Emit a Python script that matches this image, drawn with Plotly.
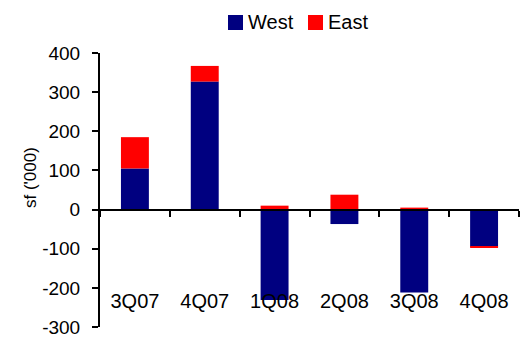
import plotly.graph_objects as go

# Quarterly net absorption by region
quarters = ["3Q07", "4Q07", "1Q08", "2Q08", "3Q08", "4Q08"]
west = [105, 327, -231, -37, -212, -95]
east = [80, 40, 10, 38, 5, -2]

series_names = ["West", "East"]
series_colors = ["#000080", "#FF0000"]

y_ticks = [-300, -200, -100, 0, 100, 200, 300, 400]
y_tick_labels = ["-300", "-200", "-100", "0", "100", "200", "300", "400"]

W, H = 522, 339
ML, MR, MT, MB = 100, 3, 53, 12
PW, PH = W - ML - MR, H - MT - MB

FONT = "Liberation Sans, Arial, sans-serif"


def px_x(x):
    return (x - ML) / PW


def px_y(y):
    return 1 - (y - MT) / PH


fig = go.Figure()
for name, vals, col in zip(series_names, [west, east], series_colors):
    fig.add_trace(go.Bar(x=quarters, y=vals, name=name, marker_color=col,
                         marker_line_width=0, width=0.4, showlegend=False))

# Legend drawn as colour swatches with labels
legend_items = [(228, series_names[0], series_colors[0]),
                (308, series_names[1], series_colors[1])]
shapes = []
annotations = []
for x0, name, col in legend_items:
    shapes.append(dict(type="rect", xref="paper", yref="paper",
                       x0=px_x(x0), x1=px_x(x0 + 15), y0=px_y(30), y1=px_y(15),
                       fillcolor=col, line_width=0))
    annotations.append(dict(text=name, xref="paper", yref="paper",
                            x=px_x(x0 + 18), y=px_y(22.5), xanchor="left",
                            yanchor="middle", showarrow=False,
                            font=dict(family=FONT, size=20, color="#000")))

annotations.append(dict(text="sf ('000)", xref="paper", yref="paper",
                        x=px_x(30), y=px_y(178), textangle=-90,
                        xanchor="center", yanchor="middle", showarrow=False,
                        font=dict(family=FONT, size=17, color="#000")))

ymin, ymax = y_ticks[0], y_ticks[-1]

fig.update_layout(
    width=W, height=H,
    margin=dict(l=ML, r=MR, t=MT, b=MB, autoexpand=False),
    barmode="relative",
    plot_bgcolor="white", paper_bgcolor="white",
    shapes=shapes, annotations=annotations,
    xaxis=dict(anchor="free", position=(0 - ymin) / (ymax - ymin),
               showline=True, linecolor="black", linewidth=2,
               ticks="outside", tickson="boundaries", ticklen=6,
               tickwidth=2, tickcolor="black", showgrid=False,
               ticklabelstandoff=73, automargin=False,
               tickfont=dict(family=FONT, size=20, color="#000")),
    yaxis=dict(range=[ymin, ymax], tickmode="array",
               tickvals=y_ticks, ticktext=y_tick_labels, showline=True,
               linecolor="black", linewidth=2, ticks="outside", ticklen=6,
               tickwidth=2, tickcolor="black", showgrid=False,
               zeroline=False, ticklabelstandoff=8, automargin=False,
               ticklabeloverflow="allow",
               tickfont=dict(family=FONT, size=19, color="#000")),
)

fig.write_html("out.html")
